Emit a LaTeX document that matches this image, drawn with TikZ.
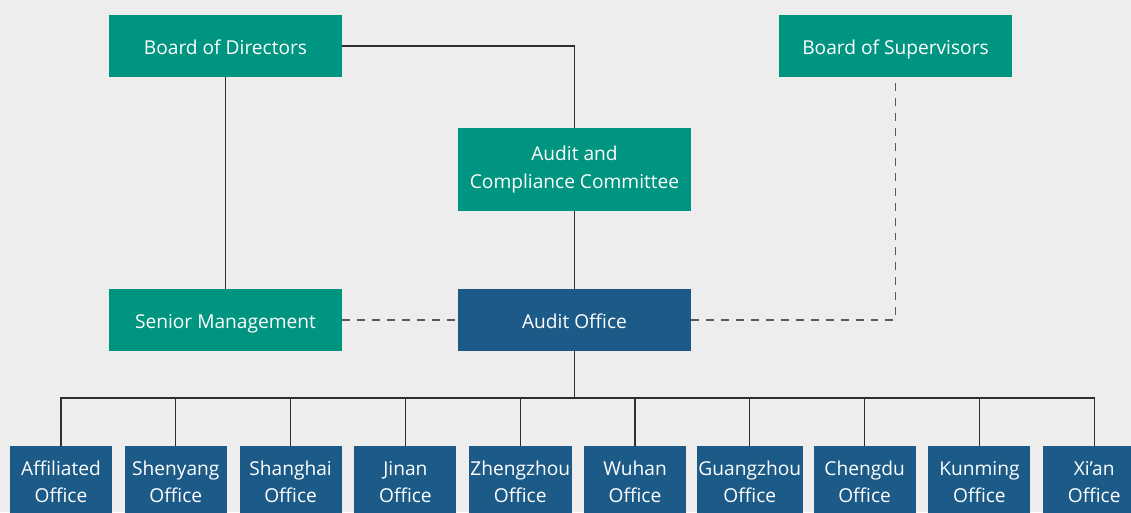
\documentclass[tikz,border=0pt]{standalone}
\usepackage{fontspec}
\setmainfont{Open Sans}
\usepackage{tikz}
\usetikzlibrary{positioning}
\definecolor{boardgreen}{HTML}{009580}
\definecolor{officeblue}{HTML}{1C5B88}
\definecolor{bggray}{HTML}{EDEDED}
\definecolor{linegray}{HTML}{2E2E2E}

\begin{document}
\begin{tikzpicture}[x=0.02cm,y=-0.02cm]
		\tikzstyle{board} = [rectangle, minimum width=4.66cm, minimum height=1.24cm, text centered, align=center, fill=boardgreen, text=white, font=\fontsize{10.9}{15.4}\selectfont]
		\tikzstyle{oneline} = [text height=2ex, text depth=0.3ex]
		\tikzstyle{audit} = [board, oneline, fill=officeblue]
		\tikzstyle{office} = [rectangle, minimum width=2.04cm, minimum height=1.44cm, text centered, align=center, fill=officeblue, text=white, inner sep=1pt, font=\fontsize{10.9}{15.4}\selectfont]
		\tikzstyle{line} = [draw=linegray, line width=0.7pt]
		\tikzstyle{dline} = [draw=linegray!80, line width=0.75pt, dash pattern=on 4.5pt off 4pt]
		\useasboundingbox (0,0) rectangle (1131,512);
		\fill[bggray] (0,0) rectangle (1131,512);
		\clip (0,0) rectangle (1131,512);
		% top row
		\node (directors) [board, oneline] at (225.5,46) {Board of Directors};
		\node (supervisors) [board, oneline] at (895.5,46) {Board of Supervisors};
		\node (committee) [board, minimum height=1.66cm] at (574.5,169.5) {Audit and\\Compliance Committee};
		\node (management) [board, oneline] at (225.5,320) {Senior Management};
		\node (auditoffice) [audit] at (574.5,320) {Audit Office};
		% branch offices
		\foreach \name [count=\i from 0] in {Affiliated, Shenyang, Shanghai, Jinan, Zhengzhou, Wuhan, Guangzhou, Chengdu, Kunming, Xi’an}
			\node (off\i) [office] at ({61+114.8*\i},482) {\name\\Office};
		\coordinate (bus) at (574.5,398);

		\path [line] (directors.east) -| (committee.north);
		\path [line] (directors.south) -- (management.north);
		\path [line] (committee.south) -- (auditoffice.north);
		\path [dline] (management.east) -- (auditoffice.west);
		\path [dline] (auditoffice.east) -| (supervisors.south);
		\path [line] (auditoffice.south) -- (bus);
		\path [line] (off0.north) -- (off0.north |- bus) -- (off9.north |- bus) -- (off9.north);
		\foreach \i in {1,...,8}
			\path [line] (off\i.north) -- (off\i.north |- bus);
	\end{tikzpicture}
\end{document}
